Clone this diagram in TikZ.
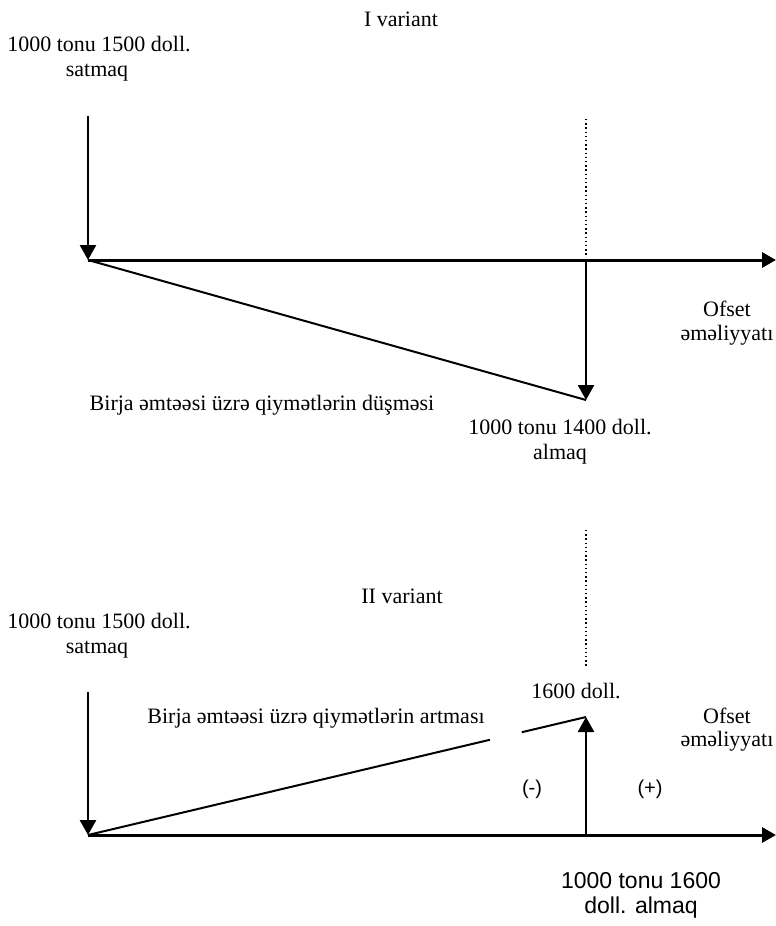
\documentclass[tikz,border=0pt]{standalone}
\usepackage{fontspec}
\setmainfont{Liberation Serif}
\newfontfamily\arialfont{Liberation Sans}
\usetikzlibrary{arrows.meta,calc}

\tikzset{
  txt/.style={font=\fontsize{22}{25}\selectfont, inner sep=0pt, anchor=base},
  sanstxt/.style={font=\arialfont\fontsize{23}{23}\selectfont, inner sep=0pt, anchor=base},
  signtxt/.style={font=\arialfont\fontsize{20}{22}\selectfont, inner sep=0pt, anchor=base},
  timeaxis/.style={line width=3pt, -{Triangle[length=14pt,width=15pt]}},
  deal/.style={line width=2.7pt, -{Triangle[length=15pt,width=16pt]}},
  trend/.style={line width=2pt},
  guide/.style={line width=1.4pt, dash pattern=on 1.4pt off 2.8pt},
}

\begin{document}
\begin{tikzpicture}[x=1pt,y=-1pt]
  \useasboundingbox (0,0) rectangle (776,926);

  % ---------- first case: falling prices ----------
  \node[txt] (t1) at (401,26) {I variant};
  \node[txt] (sell1a) at (99,51) {1000 tonu 1500 doll.};
  \node[txt] (sell1b) at (97,76) {satmaq};

  \coordinate (s1) at (88,116);
  \coordinate (o1) at (88,260);
  \coordinate (e1) at (776,260);
  \coordinate (d1t) at (586,119);
  \coordinate (d1b) at (586,256);
  \coordinate (m1) at (586,260);
  \coordinate (p1) at (586,400);

  \draw[guide] (d1t) -- (d1b);
  \draw[timeaxis] (o1) -- (e1);
  \draw[deal] (s1) -- (o1);
  \draw[trend] (o1) -- (p1);
  \draw[deal] (m1) -- (p1);

  \node[txt] (off1a) at (727,316) {Ofset};
  \node[txt] (off1b) at (727,340) {əməliyyatı};
  \node[txt] (fall) at (262,410) {Birja əmtəəsi üzrə qiymətlərin düşməsi};
  \node[txt] (buy1a) at (560,434) {1000 tonu 1400 doll.};
  \node[txt] (buy1b) at (560,459) {almaq};

  % ---------- second case: rising prices ----------
  \node[txt] (t2) at (402,603) {II variant};
  \node[txt] (sell2a) at (99,628) {1000 tonu 1500 doll.};
  \node[txt] (sell2b) at (97,653) {satmaq};

  \coordinate (s2) at (88,692);
  \coordinate (o2) at (88,835);
  \coordinate (e2) at (776,835);
  \coordinate (d2t) at (586,530);
  \coordinate (d2b) at (586,667);
  \coordinate (m2) at (586,835);
  \coordinate (p2) at (586,717);
  \coordinate (g1) at ($(o2)!0.807!(p2)$);
  \coordinate (g2) at ($(o2)!0.871!(p2)$);

  \draw[guide] (d2t) -- (d2b);
  \draw[timeaxis] (o2) -- (e2);
  \draw[deal] (s2) -- (o2);
  \draw[trend] (o2) -- (g1);
  \draw[trend] (g2) -- (p2);
  \draw[deal] (m2) -- (p2);

  \node[txt] (top2) at (576,698) {1600 doll.};
  \node[txt] (rise) at (316,723) {Birja əmtəəsi üzrə qiymətlərin artması};
  \node[txt] (off2a) at (727,723) {Ofset};
  \node[txt] (off2b) at (727,746) {əməliyyatı};
  \node[signtxt] (minus) at (532,794) {(-)};
  \node[signtxt] (plus) at (650,794) {(+)};
  \node[sanstxt] (buy2a) at (641,888) {1000 tonu 1600};
  \node[sanstxt] (buy2b) at (641,913) {doll. almaq};
\end{tikzpicture}
\end{document}
